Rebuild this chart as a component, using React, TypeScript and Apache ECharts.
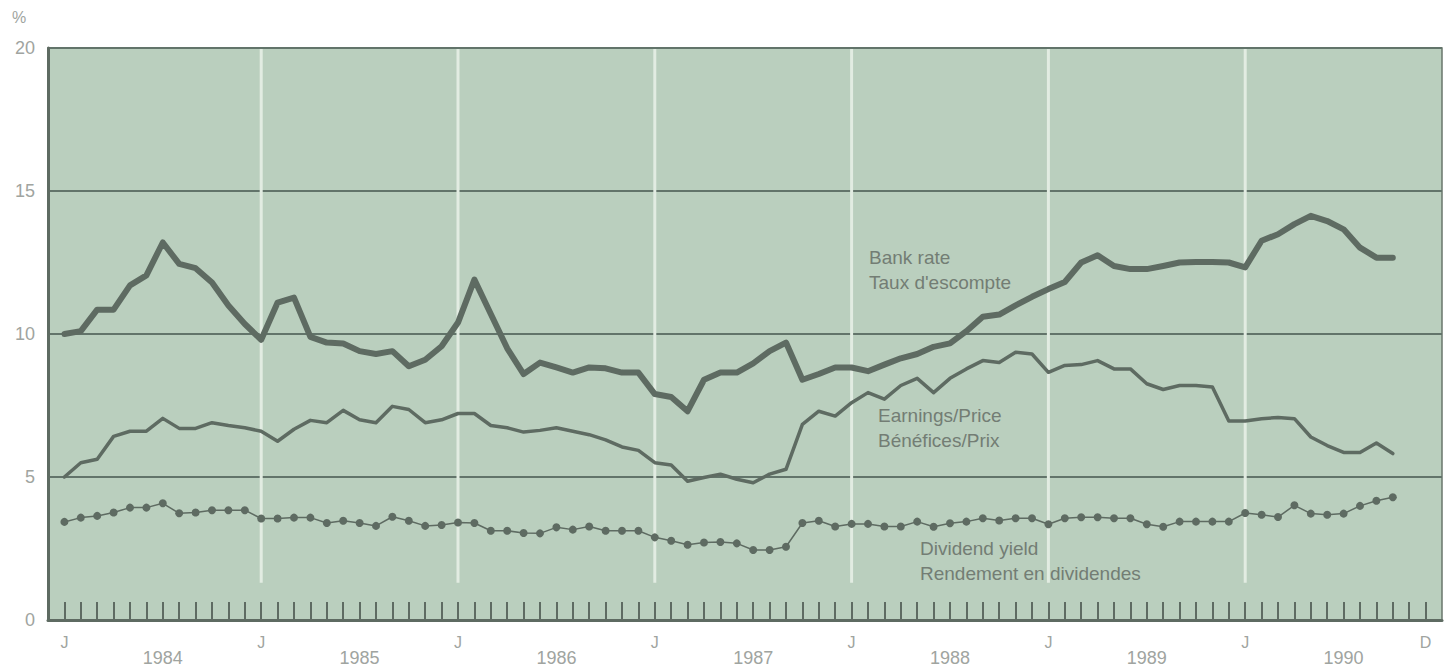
import React, { useEffect, useRef } from "react";
import * as echarts from "echarts";

// Month index: 0 = January 1984 ... 83 = December 1990
const bankRate = [
  10.0, 10.1, 10.85, 10.85, 11.7, 12.05, 13.2, 12.45, 12.3, 11.8, 11.0, 10.35,
  9.8, 11.1, 11.27, 9.9, 9.7, 9.67, 9.4, 9.3, 9.4, 8.87, 9.1, 9.57,
  10.4, 11.9, 10.7, 9.5, 8.6, 9.0, 8.83, 8.65, 8.83, 8.8, 8.65, 8.65,
  7.9, 7.8, 7.3, 8.4, 8.65, 8.65, 8.97, 9.4, 9.7, 8.4, 8.6, 8.83,
  8.83, 8.7, 8.93, 9.15, 9.3, 9.55, 9.67, 10.1, 10.6, 10.68, 11.0, 11.3,
  11.57, 11.82, 12.5, 12.75, 12.38, 12.27, 12.27, 12.38, 12.5, 12.52, 12.52, 12.5,
  12.33, 13.26, 13.49, 13.84, 14.13, 13.95, 13.66, 13.02, 12.67, 12.67,
];
const earningsPrice = [
  5.0, 5.5, 5.62, 6.42, 6.6, 6.6, 7.05, 6.7, 6.7, 6.9, 6.8, 6.72,
  6.6, 6.25, 6.67, 6.98, 6.9, 7.33, 7.0, 6.9, 7.47, 7.36, 6.9, 7.0,
  7.22, 7.22, 6.8, 6.72, 6.57, 6.63, 6.72, 6.6, 6.48, 6.3, 6.05, 5.93,
  5.5, 5.42, 4.85, 4.98, 5.1, 4.92, 4.8, 5.1, 5.27, 6.84, 7.3, 7.13,
  7.6, 7.95, 7.72, 8.2, 8.45, 7.95, 8.45, 8.78, 9.07, 9.0, 9.36, 9.3,
  8.66, 8.9, 8.93, 9.07, 8.78, 8.78, 8.26, 8.06, 8.2, 8.2, 8.15, 6.96,
  6.96, 7.04, 7.08, 7.04, 6.4, 6.1, 5.86, 5.86, 6.19, 5.82,
];
const dividendYield = [
  3.43, 3.58, 3.64, 3.76, 3.93, 3.93, 4.08, 3.73, 3.76, 3.84, 3.84, 3.84,
  3.55, 3.55, 3.58, 3.58, 3.39, 3.47, 3.39, 3.29, 3.61, 3.47, 3.29, 3.32,
  3.41, 3.39, 3.12, 3.12, 3.04, 3.03, 3.24, 3.16, 3.27, 3.12, 3.12, 3.12,
  2.89, 2.77, 2.63, 2.71, 2.73, 2.68, 2.45, 2.45, 2.56, 3.39, 3.47, 3.27,
  3.36, 3.36, 3.27, 3.27, 3.44, 3.26, 3.38, 3.44, 3.56, 3.48, 3.56, 3.56,
  3.35, 3.56, 3.59, 3.59, 3.56, 3.56, 3.35, 3.26, 3.44, 3.44, 3.44, 3.44,
  3.74, 3.68, 3.6, 4.01, 3.72, 3.68, 3.72, 3.99, 4.17, 4.29,
];
const years = ["1984", "1985", "1986", "1987", "1988", "1989", "1990"];
const yTicks = [0, 5, 10, 15, 20];
const monthCount = 84;

const LINE = "#5e6b62";
const TEXT = "#737d74";
const AXIS_TEXT = "#a0a4a0";
const BG = "#bacfbe";
const FONT = "Liberation Sans, Arial, sans-serif";

export default function App() {
  const ref = useRef<HTMLDivElement>(null);
  useEffect(() => {
    if (!ref.current) return;
    const chart = echarts.init(ref.current, undefined, { renderer: "svg" });
    const months = Array.from({ length: monthCount }, (_, i) => i);
    const januaries = years.map((_, k) => k * 12);
    const yearCenters = years.map((_, k) => k * 12 + 6);
    const toPairs = (arr: number[]) => arr.map((v, i) => [i, v]);
    const innerJans = januaries.slice(1).map((m) => [m]);
    const annot = (text: string, left: number, top: number) => ({
      type: "text",
      left,
      top,
      z: 10,
      style: { text, fill: TEXT, fontSize: 19, lineHeight: 25, fontFamily: FONT },
    });

    chart.setOption({
      animation: false,
      backgroundColor: "#ffffff",
      textStyle: { fontFamily: FONT },
      grid: {
        left: 48,
        right: 7,
        top: 48,
        bottom: 47,
        show: true,
        backgroundColor: BG,
        borderColor: "#6a776c",
        borderWidth: 1.5,
      },
      xAxis: [
        {
          type: "value",
          min: -1,
          max: 84,
          axisLine: { show: true, onZero: false, lineStyle: { color: LINE, width: 3 } },
          axisTick: {
            show: true,
            inside: true,
            length: 18,
            customValues: months,
            lineStyle: { color: LINE, width: 2 },
          },
          axisLabel: {
            show: true,
            customValues: [...januaries, 83],
            formatter: (v: number) => (v === 83 ? "D" : "J"),
            color: AXIS_TEXT,
            fontSize: 16,
            margin: 14,
            fontFamily: FONT,
          },
          splitLine: { show: false },
        },
        {
          type: "value",
          min: -1,
          max: 84,
          position: "bottom",
          axisLine: { show: false },
          axisTick: { show: false },
          axisLabel: {
            show: true,
            customValues: yearCenters,
            formatter: (v: number) => years[Math.round((v - 6) / 12)],
            color: AXIS_TEXT,
            fontSize: 18,
            margin: 29,
            fontFamily: FONT,
          },
          splitLine: { show: false },
        },
      ],
      yAxis: {
        type: "value",
        min: 0,
        max: 20,
        interval: 5,
        axisLine: { show: true, onZero: false, lineStyle: { color: LINE, width: 3 } },
        axisTick: { show: false },
        axisLabel: {
          color: AXIS_TEXT,
          fontSize: 18,
          margin: 13,
          fontFamily: FONT,
          customValues: yTicks,
        },
        splitLine: { show: true, lineStyle: { color: "#62746a", width: 1.8 } },
      },
      graphic: [
        {
          type: "text",
          left: 12,
          top: 9,
          style: { text: "%", fill: AXIS_TEXT, fontSize: 16, fontFamily: FONT },
        },
        annot("Bank rate\nTaux d'escompte", 869, 245),
        annot("Earnings/Price\nBénéfices/Prix", 878, 403),
        annot("Dividend yield\nRendement en dividendes", 920, 536),
      ],
      series: [
        {
          type: "custom",
          z: 1,
          silent: true,
          data: innerJans,
          renderItem: (params: any, api: any) => {
            const top = api.coord([api.value(0), 20]);
            const bottom = api.coord([api.value(0), 1.3]);
            return {
              type: "line",
              shape: { x1: top[0], y1: top[1] + 1, x2: bottom[0], y2: bottom[1] },
              style: { stroke: "#e2ece2", lineWidth: 3 },
            };
          },
        },
        {
          name: "Bank rate",
          type: "line",
          z: 5,
          data: toPairs(bankRate),
          showSymbol: false,
          symbol: "none",
          lineStyle: { color: LINE, width: 6, join: "round", cap: "round" },
        },
        {
          name: "Earnings/Price",
          type: "line",
          z: 5,
          data: toPairs(earningsPrice),
          showSymbol: false,
          symbol: "none",
          lineStyle: { color: LINE, width: 3.5, join: "round", cap: "round" },
        },
        {
          name: "Dividend yield",
          type: "line",
          z: 5,
          data: toPairs(dividendYield),
          symbol: "circle",
          symbolSize: 8,
          showSymbol: true,
          itemStyle: { color: LINE },
          lineStyle: { color: LINE, width: 1.5 },
        },
      ],
    });
    return () => chart.dispose();
  }, []);

  return (
    <div
      ref={ref}
      style={{ position: "fixed", left: 0, top: 0, width: 1449, height: 667, background: "#fff" }}
    />
  );
}
